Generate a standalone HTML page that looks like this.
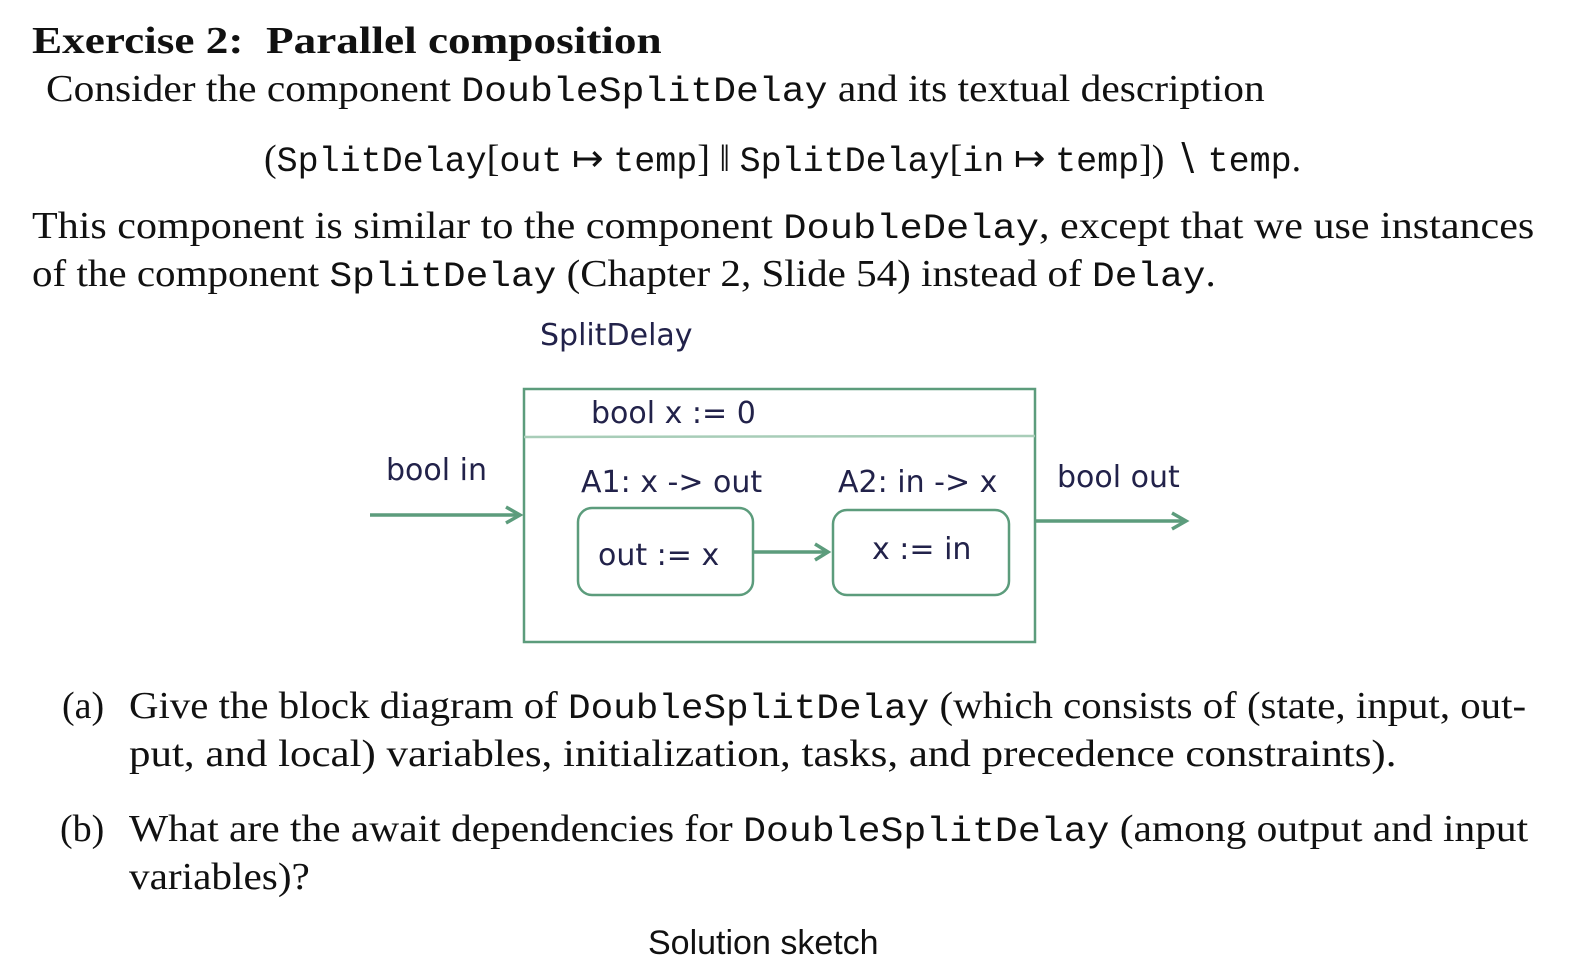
<!DOCTYPE html>
<html><head><meta charset="utf-8"><style>
body{margin:0;width:1576px;height:938px;overflow:hidden;background:#fff;position:relative;font-family:"Liberation Serif",serif;color:#111}
.l{position:absolute;white-space:nowrap;font-size:38px;line-height:42px;transform-origin:0 0}
.m{font-family:"Liberation Mono",monospace;font-size:35px}
.c{position:absolute;white-space:nowrap;font-family:"DejaVu Sans",sans-serif;font-size:30px;color:#22224a;line-height:32px}
</style></head><body>
<div class="l" style="left:32px;top:20px;font-weight:bold;transform:scaleX(1.19)">Exercise 2: &nbsp;Parallel composition</div>
<div class="l" style="left:46px;top:68px;transform:scaleX(1.09)">Consider the component <span class="m">DoubleSplitDelay</span> and its textual description</div>
<div class="l" style="left:264px;top:138px;transform:scaleX(1.0)">(<span class="m">SplitDelay</span>[<span class="m">out</span> ↦ <span class="m">temp</span>] ‖ <span class="m">SplitDelay</span>[<span class="m">in</span> ↦ <span class="m">temp</span>]) ∖ <span class="m">temp</span>.</div>
<div class="l" style="left:32px;top:205px;transform:scaleX(1.107)">This component is similar to the component <span class="m">DoubleDelay</span>, except that we use instances</div>
<div class="l" style="left:32px;top:253px;transform:scaleX(1.08)">of the component <span class="m">SplitDelay</span> (Chapter 2, Slide 54) instead of <span class="m">Delay</span>.</div>

<div class="c" style="left:540px;top:320px">SplitDelay</div>
<svg style="position:absolute;left:0;top:0" width="1576" height="938">
<g stroke="#5c9c7c" fill="none" stroke-width="2.5">
<rect x="524" y="389" width="511" height="253"/>
<line x1="524" y1="437" x2="1035" y2="436" stroke="#a8cdb8"/>
<rect x="578" y="508" width="175" height="87" rx="14"/>
<rect x="833" y="510" width="176" height="85" rx="14"/>
<line x1="370" y1="515" x2="520" y2="515" stroke-width="3.5"/>
<polyline points="506,507 520,515 506,523" stroke-width="3.5"/>
<line x1="1035" y1="521" x2="1186" y2="521" stroke-width="3.5"/>
<polyline points="1172,513 1186,521 1172,529" stroke-width="3.5"/>
<line x1="753" y1="552" x2="828" y2="552" stroke-width="3.5"/>
<polyline points="815,544 828,552 815,560" stroke-width="3.5"/>
</g></svg>
<div class="c" style="left:591px;top:398px">bool x := 0</div>
<div class="c" style="left:386px;top:455px">bool in</div>
<div class="c" style="left:581px;top:467px">A1: x -&gt; out</div>
<div class="c" style="left:838px;top:467px">A2: in -&gt; x</div>
<div class="c" style="left:1057px;top:462px">bool out</div>
<div class="c" style="left:598px;top:540px">out := x</div>
<div class="c" style="left:872px;top:534px">x := in</div>

<div class="l" style="left:62px;top:685px">(a)</div>
<div class="l" style="left:129px;top:685px;transform:scaleX(1.075)">Give the block diagram of <span class="m">DoubleSplitDelay</span> (which consists of (state, input, out-</div>
<div class="l" style="left:129px;top:733px;transform:scaleX(1.13)">put, and local) variables, initialization, tasks, and precedence constraints).</div>
<div class="l" style="left:60px;top:808px">(b)</div>
<div class="l" style="left:129px;top:808px;transform:scaleX(1.09)">What are the await dependencies for <span class="m">DoubleSplitDelay</span> (among output and input</div>
<div class="l" style="left:129px;top:856px;transform:scaleX(1.085)">variables)?</div>
<div class="l" style="left:648px;top:922px;font-family:'Liberation Sans',sans-serif;font-size:34px">Solution sketch</div>
</body></html>
